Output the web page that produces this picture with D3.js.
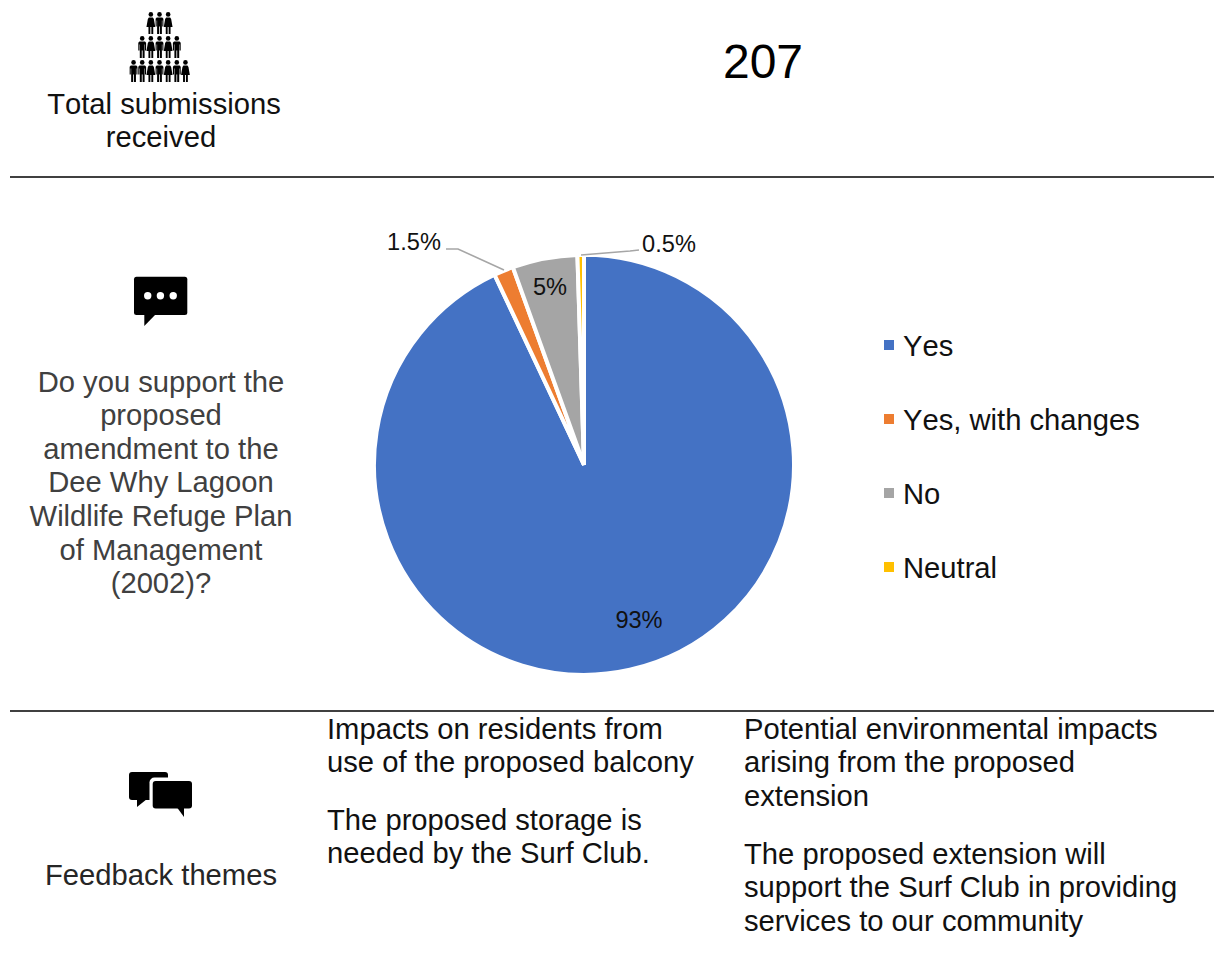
<!DOCTYPE html>
<html lang="en">
<head>
<meta charset="UTF-8">
<title>Dee Why Lagoon submissions</title>
<style>
    html, body { margin: 0; padding: 0; background: #fff; }
    svg { display: block; }
    text { font-family: "Liberation Sans", Arial, sans-serif; font-kerning: none; }
</style>
</head>
<body>
<div id="chart"></div>
<script src="https://d3js.org/d3.v7.min.js"></script>
<script>
// Data
const categories = ["Yes", "Yes, with changes", "No", "Neutral"];
const values = [93, 1.5, 5, 0.5];
const valueLabels = ["93%", "1.5%", "5%", "0.5%"];
const colors = ["#4472C4", "#ED7D31", "#A5A5A5", "#FFC000"];
const totalCount = "207";
const peopleRows = ["wmw", "mwmwm", "mmwmwmw"];
const topLabel = ["Total submissions", "received"];
const questionLines = ["Do you support the", "proposed", "amendment to the", "Dee Why Lagoon", "Wildlife Refuge Plan", "of Management", "(2002)?"];
const themesLabel = "Feedback themes";
const themesLeft = [
    ["Impacts on residents from", "use of the proposed balcony"],
    ["The proposed storage is", "needed by the Surf Club."]
];
const themesRight = [
    ["Potential environmental impacts", "arising from the proposed", "extension"],
    ["The proposed extension will", "support the Surf Club in providing", "services to our community"]
];

const width = 1214, height = 956;
const fontSize = 29.2, lineH = 33.6;
const svg = d3.select("#chart").append("svg").attr("width", width).attr("height", height);

function textBlock(lines, x, y, anchor, fill) {
    const t = svg.append("text").attr("text-anchor", anchor).attr("font-size", fontSize).attr("fill", fill);
    lines.forEach((l, i) => t.append("tspan").attr("x", x).attr("y", y + i * lineH).text(l));
}

// Rules
[177, 711].forEach(y => svg.append("line").attr("x1", 10).attr("x2", 1214)
    .attr("y1", y).attr("y2", y).attr("stroke", "#000").attr("stroke-width", 1.6));

// People icon
const manPath = "M-2.8 5.6H2.8L3.9 6.8V14.5H2.8V8.5H2.4V22H0.4V14.5H-0.4V22H-2.4V8.5H-2.8V14.5H-3.9V6.8Z";
const womanPath = "M-2 5.6H2L3 7L4.4 15H2.4V22H0.5V15H-0.5V22H-2.4V15H-4.4L-3 7Z";
peopleRows.forEach((row, r) => {
    row.split("").forEach((kind, i) => {
        const g = svg.append("g").attr("fill", "#000")
            .attr("transform", `translate(${159.5 + (i - (row.length - 1) / 2) * 8.65},${12 + r * 24})`);
        g.append("circle").attr("cx", 0).attr("cy", 2.4).attr("r", 2.3);
        g.append("path").attr("d", kind === "m" ? manPath : womanPath);
    });
});

textBlock([topLabel[0]], 164, 113.6, "middle", "#111");
textBlock([topLabel[1]], 161, 147.2, "middle", "#111");
svg.append("text").attr("x", 763).attr("y", 78).attr("text-anchor", "middle")
    .attr("font-size", 48).attr("fill", "#000").text(totalCount);

// Speech bubble icons
function bubble(x, y, w, h, rx, tail) {
    svg.append("rect").attr("x", x).attr("y", y).attr("width", w).attr("height", h).attr("rx", rx).attr("fill", "#000");
    svg.append("path").attr("d", tail).attr("fill", "#000");
}
bubble(134, 276.7, 53.3, 38.3, 2.5, "M144.3 314V326L156 314Z");
[147.7, 160.4, 173.2].forEach(x =>
    svg.append("circle").attr("cx", x).attr("cy", 295.7).attr("r", 3.7).attr("fill", "#fff"));

bubble(129, 772, 39, 28, 3, "M137 799V807L147 799Z");
svg.append("rect").attr("x", 149.5).attr("y", 777.5).attr("width", 46).attr("height", 37).attr("rx", 5).attr("fill", "#fff");
bubble(152.7, 781, 39.3, 27.4, 3, "M176.7 807L184 817V807Z");

textBlock(questionLines, 161, 391.6, "middle", "#404040");
textBlock([themesLabel], 161, 884.6, "middle", "#262626");

// Pie
const cx = 584, cy = 464.8, radius = 210;
const pie = d3.pie().sort(null).value(d => d)(values);
const arc = d3.arc().innerRadius(0).outerRadius(radius);
const pieG = svg.append("g").attr("transform", `translate(${cx},${cy})`);
pieG.selectAll("path").data(pie).join("path")
    .attr("d", arc)
    .attr("fill", (d, i) => colors[i])
    .attr("stroke", "#fff").attr("stroke-width", 4).attr("stroke-linejoin", "miter");

// Data labels
const labelFont = 23.6;
[
    { i: 0, x: 639, y: 628, anchor: "middle" },
    { i: 2, x: 550, y: 295, anchor: "middle" },
    { i: 1, x: 414, y: 250, anchor: "middle" },
    { i: 3, x: 669, y: 252, anchor: "middle" }
].forEach(l => svg.append("text").attr("x", l.x).attr("y", l.y).attr("text-anchor", l.anchor)
    .attr("font-size", labelFont).attr("fill", "#111").text(valueLabels[l.i]));

// Leader lines
const leader = d3.line();
[
    [[446, 249], [458, 249], [504, 270]],
    [[639, 250], [630, 251], [581, 255]]
].forEach(pts => svg.append("path").attr("d", leader(pts)).attr("fill", "none")
    .attr("stroke", "#A6A6A6").attr("stroke-width", 1.6));

// Legend
const legendY = d3.scalePoint().domain(categories).range([345, 567]);
categories.forEach((c, i) => {
    svg.append("rect").attr("x", 884).attr("y", legendY(c) - 5).attr("width", 10).attr("height", 10).attr("fill", colors[i]);
    svg.append("text").attr("x", 903).attr("y", legendY(c) + 10.6).attr("font-size", fontSize).attr("fill", "#111").text(c);
});

// Feedback themes
textBlock(themesLeft[0], 327, 738.6, "start", "#111");
textBlock(themesLeft[1], 327, 829.6, "start", "#111");
textBlock(themesRight[0], 744, 738.6, "start", "#111");
textBlock(themesRight[1], 744, 863.6, "start", "#111");
</script>
</body>
</html>
